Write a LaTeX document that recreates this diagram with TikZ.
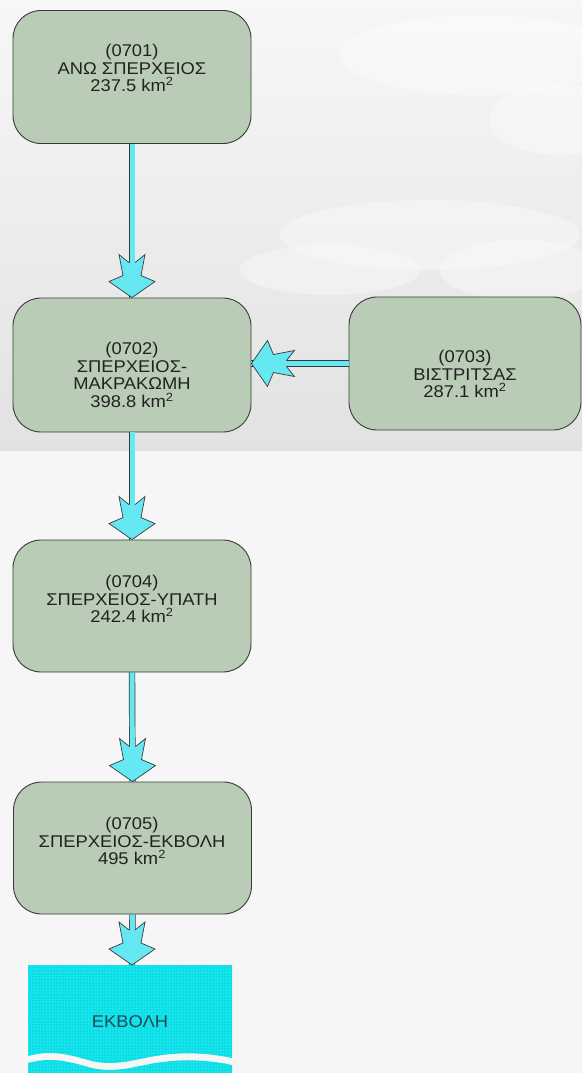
\documentclass[tikz,border=0pt]{standalone}
\usepackage{fontspec}
\setmainfont{Liberation Sans}[FakeStretch=1.08]
\usetikzlibrary{patterns,calc}
\definecolor{boxfill}{HTML}{B9CCB5}
\definecolor{boxline}{HTML}{3A3A3A}
\definecolor{arrowcyan}{HTML}{66E8F2}
\definecolor{rivercyan}{HTML}{14E6EE}
\definecolor{riverdot}{HTML}{0A8C9A}
\definecolor{rivertext}{HTML}{1E4A5A}
\definecolor{txt}{HTML}{222222}
\definecolor{skytop}{HTML}{F7F7F7}
\definecolor{skybot}{HTML}{E2E2E2}
\definecolor{ground}{HTML}{F6F6F6}
\tikzset{
  basin/.style={draw=boxline, line width=0.9pt, fill=boxfill, rounded corners=28pt,
    minimum width=238pt, minimum height=133pt, inner sep=0pt},
  basintext/.style={align=center, text=txt, font=\fontsize{17}{17.5}\selectfont, inner sep=0pt},
  shaft/.style={draw=boxline, line width=0.7pt, double=arrowcyan, double distance=5pt},
  pics/headdown/.style={code={
    \filldraw[draw=boxline, line width=0.7pt, fill=arrowcyan, line join=miter]
      (3,-35) -- (13,-43) -- (9,-22) -- (23,-16) -- (0,0) -- (-23,-16) -- (-9,-22) -- (-13,-43) -- (-3,-35);
  }},
  cloud/.style={fill=white, opacity=0.35}
}
\begin{document}
\begin{tikzpicture}[x=1pt, y=-1pt]
\useasboundingbox (0,0) rectangle (582,1073);
% background
\fill[ground] (0,0) rectangle (582,1073);
\shade[top color=skytop, bottom color=skybot] (0,0) rectangle (582,450);
\fill[cloud] (480,55) ellipse [x radius=140pt, y radius=40pt];
\fill[cloud] (560,120) ellipse [x radius=70pt, y radius=35pt];
\fill[cloud] (430,235) ellipse [x radius=150pt, y radius=35pt];
\fill[cloud] (330,270) ellipse [x radius=90pt, y radius=25pt];
\fill[cloud] (520,270) ellipse [x radius=80pt, y radius=30pt];

% basins
\node[basin] (b1) at (132,77) {};
\node[basintext] (t1) at (132,68) {(0701)\\ΑΝΩ ΣΠΕΡΧΕΙΟΣ\\237.5 km\textsuperscript{2}};
\node[basin, minimum height=134pt] (b2) at (132,365) {};
\node[basintext] (t2) at (132,375) {(0702)\\ΣΠΕΡΧΕΙΟΣ-\\ΜΑΚΡΑΚΩΜΗ\\398.8 km\textsuperscript{2}};
\node[basin, minimum width=232pt] (b3) at (465,363.5) {};
\node[basintext] (t3) at (465,374) {(0703)\\ΒΙΣΤΡΙΤΣΑΣ\\287.1 km\textsuperscript{2}};
\node[basin, minimum height=132pt] (b4) at (132,606) {};
\node[basintext] (t4) at (132,599) {(0704)\\ΣΠΕΡΧΕΙΟΣ-ΥΠΑΤΗ\\242.4 km\textsuperscript{2}};
\node[basin, minimum height=132pt] (b5) at (132.5,848) {};
\node[basintext] (t5) at (132,841) {(0705)\\ΣΠΕΡΧΕΙΟΣ-ΕΚΒΟΛΗ\\495 km\textsuperscript{2}};

% outlet (river)
\path[fill=rivercyan, postaction={pattern=dots, pattern color=riverdot}]
  (28,965) -- (232,965) -- (232,1058)
  .. controls (205,1052) and (175,1052) .. (150,1057)
  .. controls (125,1062) and (110,1066) .. (88,1060)
  .. controls (68,1054) and (50,1050) .. (28,1056) -- cycle;
\path[fill=rivercyan, postaction={pattern=dots, pattern color=riverdot}]
  (28,1063)
  .. controls (50,1057) and (68,1061) .. (88,1067)
  .. controls (110,1073) and (125,1069) .. (150,1064)
  .. controls (175,1059) and (205,1059) .. (232,1065)
  -- (232,1073) -- (28,1073) -- cycle;
\coordinate (rivertop) at (132,965);
\node[text=rivertext, font=\fontsize{17}{17}\selectfont, inner sep=0pt] (river) at (130,1022) {ΕΚΒΟΛΗ};

% connectors
\draw[shaft] (b1.south) -- (b2.north);
\pic at (b2.north) {headdown};
\draw[shaft] (b3.west) -- (b3.west -| b2.east);
\pic[rotate=-90] at (b3.west -| b2.east) {headdown};
\draw[shaft] (b2.south) -- (b4.north);
\pic at (b4.north) {headdown};
\draw[shaft] (b4.south) -- (b5.north);
\pic at (b5.north) {headdown};
\draw[shaft] (b5.south) -- (rivertop);
\pic at (rivertop) {headdown};
\end{tikzpicture}
\end{document}
